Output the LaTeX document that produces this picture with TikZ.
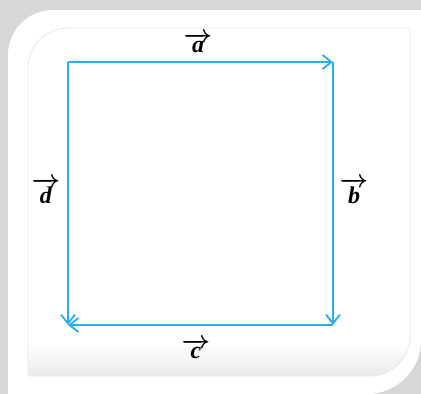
\documentclass[tikz,border=0pt]{standalone}
\usepackage{fontspec}
\setmainfont{Liberation Serif}
\usetikzlibrary{arrows.meta}
\definecolor{vecblue}{RGB}{38,176,240}
\definecolor{bggray}{RGB}{214,216,216}
\definecolor{framegray}{RGB}{232,232,232}
\newcommand{\vlab}[1]{$\overrightarrow{\textbf{\textit{#1}}}$}
\newcommand{\panelpath}{(28,376) -- (28,68) arc[start angle=180,end angle=270,radius=40] -- (410,28) -- (410,336) arc[start angle=0,end angle=90,radius=40] -- cycle}
\begin{document}
\begin{tikzpicture}[x=1pt,y=-1pt,>={Straight Barb[length=9pt,width=14pt,line width=1.8pt]},
	vec/.style={draw=vecblue,line width=2.2pt,->},
	lab/.style={inner sep=0pt,font=\fontsize{24}{28}\selectfont\boldmath}]
	\useasboundingbox (0,0) rectangle (421,394);
	% card and frame
	\fill[bggray] (0,0) rectangle (421,394);
	\fill[white] (8,394) -- (8,55) arc[start angle=180,end angle=270,radius=45] -- (421,10) -- (421,340) arc[start angle=0,end angle=90,radius=54] -- cycle;
	\begin{scope}
		\clip \panelpath;
		\fill[white] (0,0) rectangle (421,394);
		\shade[top color=white,bottom color=framegray] (20,342) rectangle (415,380);
	\end{scope}
	\draw[framegray,line width=0.8pt] \panelpath;
	% square of vectors
	\coordinate (A) at (68,62);
	\coordinate (B) at (333,62);
	\coordinate (C) at (333,325);
	\coordinate (D) at (68,325);
	\draw[vec] (A) -- (B);
	\draw[vec] (B) -- (C);
	\draw[vec] (C) -- (D);
	\draw[vec] (A) -- (D);
	\node[lab] (la) at (198,43) {\vlab{a}};
	\node[lab] (lb) at (354,191) {\vlab{b}};
	\node[lab] (lc) at (196,349) {\vlab{c}};
	\node[lab] (ld) at (46,191) {\vlab{d}};
\end{tikzpicture}
\end{document}
